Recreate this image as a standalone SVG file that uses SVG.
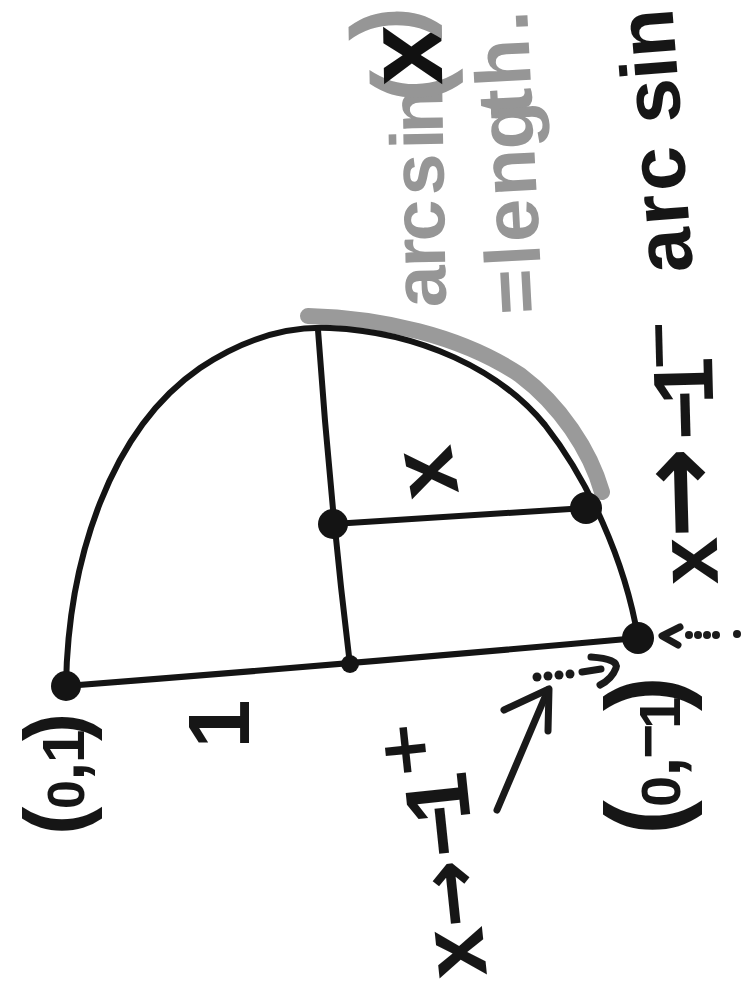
<svg xmlns="http://www.w3.org/2000/svg" width="745" height="984" viewBox="0 0 745 984">
<style>
.ln{fill:none;stroke:#141414;stroke-width:6;stroke-linecap:round;stroke-linejoin:round}
.pt{fill:#141414}
.t{font-family:"Liberation Sans",Arial,sans-serif;font-weight:bold;fill:#161616}
.sym{font-family:"DejaVu Sans",sans-serif;font-weight:bold}
.g{fill:#969696}
.ar{fill:none;stroke:#1a1a1a;stroke-width:7;stroke-linecap:round;stroke-linejoin:round}
.dt{fill:#1a1a1a}
</style>
<rect width="745" height="984" fill="#ffffff"/>

<g id="highlight">
  <path d="M308,316 C380,318 460,335 520,375 C560,405 590,450 602,492" fill="none" stroke="#9a9a9a" stroke-width="16" stroke-linecap="round"/>
</g>

<g id="connectors">
  <path id="arc" class="ln" d="M66,686 C68,560 110,430 200,368 C245,338 290,326 330,328 C420,332 500,370 545,425 C588,480 625,560 638,638"/>
  <path id="diameter" class="ln" stroke-width="5" d="M66,686 Q350,664 638,638"/>
  <path id="radius" class="ln" stroke-width="5" d="M318,330 Q330,500 350,665"/>
  <path id="segment" class="ln" stroke-width="5" d="M333,524 L586,508"/>
</g>

<g id="points">
  <circle id="p-top" class="pt" cx="66" cy="686" r="15"/>
  <circle id="p-axis" class="pt" cx="333" cy="524" r="15"/>
  <circle id="p-P" class="pt" cx="586" cy="508" r="16"/>
  <circle id="p-bottom" class="pt" cx="638" cy="638" r="16"/>
  <circle id="p-center" class="pt" cx="350" cy="664" r="9"/>
</g>

<g id="arrows">
  <g id="arrow-big">
    <path class="ar" d="M497,810 L548,690"/>
    <path class="ar" d="M504,710 L549,689 L548,731"/>
  </g>
  <g id="arrow-dotted-left">
    <circle class="dt" cx="537" cy="677" r="4.5"/>
    <circle class="dt" cx="548" cy="676" r="4.5"/>
    <circle class="dt" cx="559" cy="675" r="4.5"/>
    <circle class="dt" cx="570" cy="674" r="4.5"/>
    <path class="ar" d="M582,672 L601,669 M591,657 Q619,659 616,668 Q612,679 600,685"/>
  </g>
  <g id="arrow-dotted-right">
    <path class="ar" stroke-width="6" d="M680,627 L662,636 L678,645"/>
    <circle class="dt" cx="689" cy="635" r="4"/>
    <circle class="dt" cx="698" cy="635" r="4"/>
    <circle class="dt" cx="707" cy="635" r="4"/>
    <circle class="dt" cx="716" cy="635" r="4"/>
    <circle class="dt" cx="737" cy="634" r="4"/>
  </g>
</g>

<g id="label-top-point">
  <text class="t" transform="translate(84,835) rotate(-90)"><tspan x="0" font-size="85">(</tspan><tspan x="26" font-size="52">0</tspan><tspan x="54" font-size="70">,</tspan><tspan x="72" font-size="60">1</tspan><tspan x="94" font-size="85">)</tspan></text>
</g>

<g id="label-bottom-point">
  <text class="t" transform="translate(680,831) rotate(-90)"><tspan x="-4" font-size="105">(</tspan><tspan x="24" font-size="56">0</tspan><tspan x="54" font-size="75">,</tspan><tspan x="72" dy="-12" font-size="60">−</tspan><tspan x="102" dy="12" font-size="58">1</tspan><tspan x="120" font-size="105">)</tspan></text>
</g>

<g id="label-radius">
  <text class="t" font-size="88" text-anchor="middle" transform="translate(249,724) rotate(-90)">1</text>
</g>

<g id="label-x-mid">
  <text class="t" font-size="90" text-anchor="middle" transform="translate(432,472) rotate(-100)" y="23">x</text>
</g>

<g id="label-limit-plus">
  <text class="t" font-size="90" transform="translate(487,975) rotate(-96)"><tspan x="0">x </tspan><tspan class="sym" x="50" font-size="82">→ </tspan><tspan x="122">−</tspan><tspan x="156">1</tspan><tspan class="sym" x="202" font-size="115">⁺</tspan></text>
</g>

<g id="label-limit-minus">
  <text class="t" font-size="85" transform="translate(718,584) rotate(-91.5)"><tspan x="0">x </tspan><tspan class="sym" x="46" font-size="110">→ </tspan><tspan x="145">−</tspan><tspan x="180">1</tspan><tspan class="sym" x="212" font-size="105">⁻</tspan></text>
</g>

<g id="label-arcsin">
  <text class="t" font-size="80" transform="translate(693,271) rotate(-94.5)" x="0 48 82 150 194 216">arcsin</text>
</g>

<g id="note-gray">
  <text class="t g" font-size="75" transform="translate(446,307) rotate(-91)"><tspan x="0 40 66 112 158 174">arcsin</tspan><tspan x="205" font-size="100">(</tspan><tspan x="222" font-size="110" fill="#111">x</tspan><tspan x="268" dy="-20" font-size="100">)</tspan></text>
  <text class="t g" font-size="78" transform="translate(543,313) rotate(-93)" x="0 46 48 72 118 165 200 228 282">= length.</text>
</g>
</svg>
